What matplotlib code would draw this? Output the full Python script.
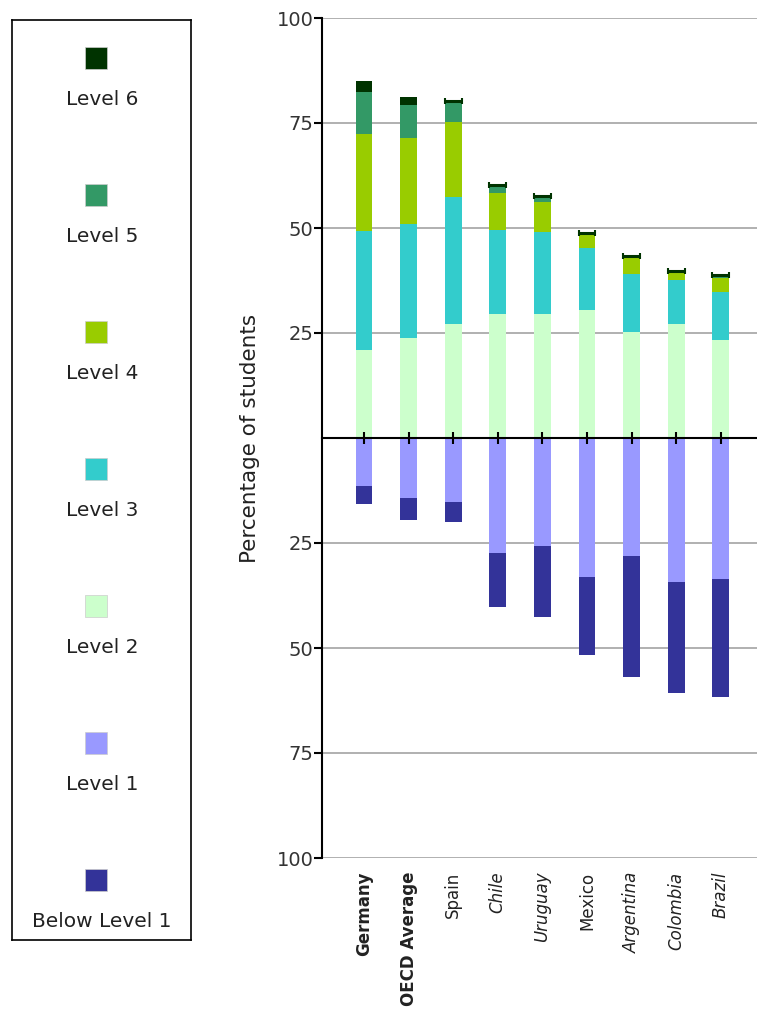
import matplotlib.pyplot as plt
import numpy as np

# data (percentage of students per proficiency level)
countries = ['Germany', 'OECD Average', 'Spain', 'Chile', 'Uruguay',
             'Mexico', 'Argentina', 'Colombia', 'Brazil']
label_style = ['bold', 'bold', 'normal', 'italic', 'italic',
               'normal', 'italic', 'italic', 'italic']

below1 = [4.3, 5.2, 4.7, 12.8, 16.7, 18.6, 28.7, 26.3, 28.1]
level1 = [11.5, 14.4, 15.3, 27.4, 25.8, 33.0, 28.2, 34.4, 33.5]
level2 = [20.9, 23.8, 27.1, 29.5, 29.5, 30.5, 25.2, 27.1, 23.3]
level3 = [28.3, 27.2, 30.2, 20.1, 19.6, 14.7, 13.9, 10.5, 11.5]
level4 = [23.3, 20.5, 18.0, 8.7, 7.2, 3.3, 3.9, 1.8, 3.3]
level5 = [9.9, 7.7, 4.7, 1.9, 1.3, 0.3, 0.4, 0.4, 0.6]
level6 = [2.6, 1.9, 0.3, 0.1, 0.1, 0.0, 0.0, 0.0, 0.0]

level_names = ['Level 6', 'Level 5', 'Level 4', 'Level 3',
               'Level 2', 'Level 1', 'Below Level 1']
colors = {
    'Level 6': '#003300',
    'Level 5': '#339966',
    'Level 4': '#99cc00',
    'Level 3': '#33cccc',
    'Level 2': '#ccffcc',
    'Level 1': '#9999ff',
    'Below Level 1': '#333399',
}

yticks = [100, 75, 50, 25, -25, -50, -75, -100]

W, H = 757, 1014
fig = plt.figure(figsize=(W / 100, H / 100), dpi=100)

# main chart
ax = fig.add_axes([322 / W, 1 - 858 / H, (757 - 322) / W, (858 - 18) / H])
x = np.arange(len(countries))
bw = 0.375

# positive side: level 2 and above stacked upward
bottom = np.zeros(len(countries))
for name, vals in [('Level 2', level2), ('Level 3', level3),
                   ('Level 4', level4), ('Level 5', level5),
                   ('Level 6', level6)]:
    vals = np.array(vals)
    ax.bar(x, vals, bw, bottom=bottom, color=colors[name],
           edgecolor='none', zorder=1)
    bottom = bottom + vals

# small level 6 shares drawn as capped marks at the bar top
small = np.array(level6) < 1
ax.errorbar(x[small], bottom[small], xerr=bw / 2, fmt='none',
            ecolor=colors['Level 6'], elinewidth=2.2, capsize=2.5,
            capthick=1.5, zorder=2)

# negative side: level 1 and below stacked downward
neg = np.zeros(len(countries))
for name, vals in [('Level 1', level1), ('Below Level 1', below1)]:
    vals = np.array(vals)
    ax.bar(x, -vals, bw, bottom=neg, color=colors[name],
           edgecolor='none', zorder=1)
    neg = neg - vals

ax.set_xlim(-0.94, 8.81)
ax.set_ylim(-100, 100)
ax.set_yticks(yticks)
ax.set_yticklabels([str(abs(v)) for v in yticks], color='#333333',
                   fontsize=14)
ax.yaxis.grid(True, color='#aaaaaa', linewidth=1.3)
ax.set_axisbelow(True)
ax.xaxis.set_zorder(3)

for s in ['top', 'right']:
    ax.spines[s].set_visible(False)
ax.spines['left'].set_linewidth(1.5)
ax.spines['bottom'].set_position(('data', 0))
ax.spines['bottom'].set_linewidth(1.5)
ax.spines['bottom'].set_zorder(3)

ax.set_xticks(x)
ax.tick_params(axis='x', direction='inout', length=9, width=1.5,
               labelbottom=False)
ax.tick_params(axis='y', length=6, width=1.5, pad=0)

ax.set_ylabel('Percentage of students', fontsize=15.5, color='#222222',
              labelpad=12)

for xi, name, st in zip(x, countries, label_style):
    weight = 'bold' if st == 'bold' else 'normal'
    style = 'italic' if st == 'italic' else 'normal'
    ax.text(xi, -0.016, name, transform=ax.get_xaxis_transform(),
            rotation=90, ha='center', va='top', fontsize=12,
            fontweight=weight, fontstyle=style, color='#222222')

# legend box on the left
lax = fig.add_axes([12 / W, 1 - 940 / H, (191 - 12) / W, (940 - 20) / H])
lax.set_xlim(12, 191)
lax.set_ylim(940, 20)
lax.set_xticks([])
lax.set_yticks([])
for s in lax.spines.values():
    s.set_linewidth(1.2)
for i, name in enumerate(level_names):
    yc = 58 + i * 137
    lax.plot(96, yc, marker='s', markersize=16, color=colors[name],
             markeredgecolor='#cccccc', markeredgewidth=0.5)
    lax.text(102, yc + 42, name, ha='center', va='center', fontsize=14.5,
             color='#222222')

fig.savefig('out.png', dpi=100)
